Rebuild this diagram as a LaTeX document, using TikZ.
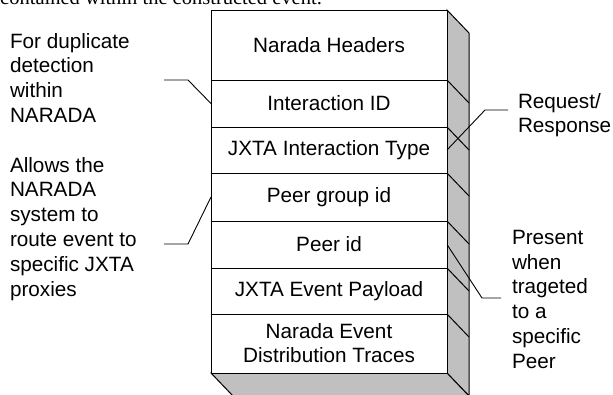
\documentclass[tikz,border=0pt]{standalone}
\usepackage{fontspec}
\setmainfont{Liberation Sans}
\newfontfamily\serifont{Liberation Serif}
\definecolor{sidegray}{RGB}{192,192,192}
\tikzset{
  rowbox/.style={draw, fill=white, line width=1pt, minimum width=236pt, inner sep=0pt, outer sep=0pt, align=center,
    font=\fontsize{20.7}{24}\selectfont},
  face/.style={draw, fill=sidegray, line width=1pt, line join=miter},
  edgeline/.style={line width=1pt},
  lbl/.style={inner sep=0pt, outer sep=0pt, align=left, font=\fontsize{20.7}{24.8}\selectfont},
  conn/.style={line width=0.9pt}
}
\begin{document}
\begin{tikzpicture}[x=1pt,y=-1pt]
\useasboundingbox (0,0) rectangle (613,394);
% cut-off caption line at the top
\begin{scope}
\clip (0,0) rectangle (613,394);
\node[anchor=base west, inner sep=0pt, font=\serifont\fontsize{20.5}{24}\selectfont] (cap) at (0,4) {contained within the constructed event.};
\end{scope}
% side and bottom faces
\draw[face] (447,10) -- (469,33) -- (469,396) -- (447,373) -- cycle;
\draw[face] (211,373) -- (447,373) -- (469,396) -- (233,396) -- cycle;
% rows
\node[rowbox, minimum height=70pt] (r1) at (329,45) {Narada Headers};
\node[rowbox, minimum height=47pt] (r2) at (329,103.5) {Interaction ID};
\node[rowbox, minimum height=46pt] (r3) at (329,150) {JXTA Interaction Type};
\node[rowbox, minimum height=48pt] (r4) at (329,197) {Peer group id};
\node[rowbox, minimum height=47pt] (r5) at (329,244.5) {Peer id};
\node[rowbox, minimum height=46pt] (r6) at (329,291) {JXTA Event Payload};
\node[rowbox, minimum height=59pt] (r7) at (329,343.5) {Narada Event\\Distribution Traces};
% diagonals on the side face
\foreach \r in {r1,r2,r3,r4,r5,r6}{
  \draw[edgeline] (\r.south east) -- ++(22,23);
}
% labels
\node[lbl, anchor=north west] (l1) at (10,33) {For duplicate\\detection\\within\\NARADA};
\node[lbl, anchor=north west] (l2) at (10,157) {Allows the\\NARADA\\system to\\route event to\\specific JXTA\\proxies};
\node[lbl, anchor=north west] (l3) at (518,93) {Request/\\Response};
\node[lbl, anchor=north west] (l4) at (512,230) {Present\\when\\trageted\\to a\\specific\\Peer};
% connectors
\coordinate (c1) at (164,80);
\coordinate (c2) at (164,244);
\coordinate (c3) at (508,110);
\coordinate (c4) at (501,298);
\draw[conn] (c1) -- ++(24,0) -- (r2.west);
\draw[conn] (c2) -- ++(24,0) -- (r4.west);
\draw[conn] (r3.east) -- (485,110) -- (c3);
\draw[conn] (r5.east) -- (482,298) -- (c4);
\end{tikzpicture}
\end{document}
